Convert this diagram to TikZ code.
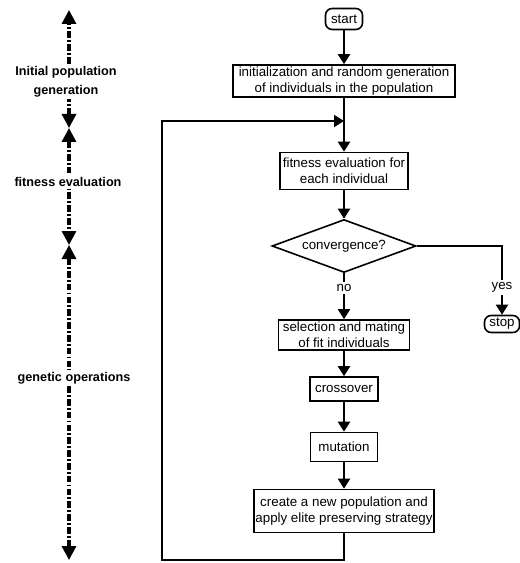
\documentclass[tikz,border=0pt]{standalone}
\usepackage{fontspec}
\setmainfont{Liberation Sans}
\usetikzlibrary{arrows.meta,shapes.geometric}
\tikzset{
  box/.style={draw,line width=1.2pt,align=center,inner sep=1pt},
  term/.style={box,rounded corners=5pt},
  decision/.style={draw,diamond,aspect=2.7,line width=1.2pt,inner sep=0pt,minimum width=108pt,minimum height=39.75pt},
  flow/.style={line width=1.5pt,-{Triangle[length=7.5pt,width=9pt]}},
  phase/.style={line width=2.4pt,dash pattern=on 5pt off 1.6pt on 1.4pt off 1.6pt,{Triangle[length=10.5pt,width=10.5pt]}-{Triangle[length=10.5pt,width=10.5pt]}},
  phaselabel/.style={fill=white,align=center,inner sep=1.5pt,font=\fontsize{9.5}{14}\selectfont\bfseries},
  answer/.style={fill=white,inner sep=2pt}
}

\begin{document}
\begin{tikzpicture}[x=0.75pt,y=-0.75pt,font=\fontsize{10}{12}\selectfont]
  \useasboundingbox (0,0) rectangle (519,563);

  %flow chart
  \node[term,minimum width=27.75pt,minimum height=15.75pt] (start) at (344,19) {start};
  \node[box,minimum width=166.5pt,minimum height=24pt] (init) at (344,81) {initialization and random generation\\of individuals in the population};
  \node[box,minimum width=96pt,minimum height=27.75pt] (fit) at (344,171) {fitness evaluation for\\each individual};
  \node[decision] (conv) at (344,246) {convergence?};
  \node[box,minimum width=98.25pt,minimum height=22.5pt] (select) at (344,335) {selection and mating\\of fit individuals};
  \node[box,minimum width=51pt,minimum height=18pt] (cross) at (344,389) {crossover};
  \node[box,minimum width=50.25pt,minimum height=21.75pt] (mutate) at (344,447) {mutation};
  \node[box,minimum width=135pt,minimum height=32.25pt] (create) at (344,511) {create a new population and\\apply elite preserving strategy};
  \node[term,minimum width=26.25pt,minimum height=12.75pt] (stop) at (502,324) {stop};

  \draw[flow] (start) -- (init);
  \draw[flow] (init) -- (fit);
  \draw[flow] (fit) -- (conv);
  \draw[flow] (conv) -- node[answer,pos=0.32] (no) {no} (select);
  \draw[flow] (select) -- (cross);
  \draw[flow] (cross) -- (mutate);
  \draw[flow] (mutate) -- (create);
  \draw[flow] (conv.east) -| node[answer,pos=0.8] (yes) {yes} (stop.north);

  %loop back to fitness evaluation
  \coordinate (loopin) at (344,121);
  \coordinate (loopsw) at (162,560);
  \draw[flow] (create.south) |- (loopsw) |- (loopin);

  %phases on the left
  \coordinate (ax0) at (69,10);
  \coordinate (ax1) at (69,128);
  \coordinate (ax2) at (69,245);
  \coordinate (ax3) at (69,560);
  \draw[phase] (ax1) -- (ax0);
  \draw[phase] (ax1) -- (ax2);
  \draw[phase] (ax2) -- (ax3);
  \node[phaselabel] (initlabel) at (66,82) {Initial population\\generation};
  \node[phaselabel] (fitlabel) at (68,182) {fitness evaluation};
  \node[phaselabel] (genlabel) at (74,378) {genetic operations};
\end{tikzpicture}
\end{document}
